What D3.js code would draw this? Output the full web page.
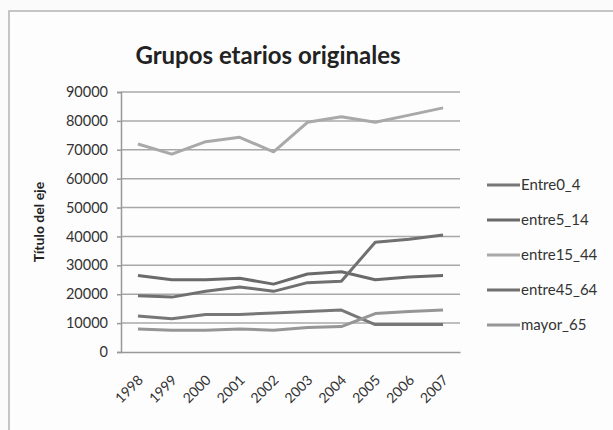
<!DOCTYPE html>
<html>
<head>
<meta charset="utf-8">
<script src="https://cdn.jsdelivr.net/npm/d3@7"></script>
<style>
  body { margin: 0; background: #fbfbfb; }
  svg { display: block; font-family: Lato, "Open Sans", sans-serif; }
</style>
</head>
<body>
<script>
// Figure
const W = 613, H = 430;
const margin = { top: 92, left: 121, right: 153, bottom: 78 };

// Data
const YEARS = ["1998","1999","2000","2001","2002","2003","2004","2005","2006","2007"];
const SERIES = ["Entre0_4", "entre5_14", "entre15_44", "entre45_64", "mayor_65"];
const entre0_4   = [12500, 11500, 13000, 13000, 13500, 14000, 14500,  9500,  9500,  9500];
const entre5_14  = [26500, 25000, 25000, 25500, 23500, 27000, 27800, 25000, 26000, 26500];
const entre15_44 = [72000, 68500, 72800, 74300, 69300, 79500, 81400, 79500, 82000, 84500];
const entre45_64 = [19500, 19000, 21000, 22500, 21000, 24000, 24500, 38000, 39000, 40500];
const mayor_65   = [ 8000,  7500,  7500,  8000,  7500,  8500,  8800, 13300, 14000, 14500];
const VALUES = [entre0_4, entre5_14, entre15_44, entre45_64, mayor_65];
const Y_TICKS = d3.range(0, 90001, 10000);

const COLORS = ["#777777", "#6a6a6a", "#a9a9a9", "#707070", "#969696"];

const svg = d3.select("body").append("svg")
    .attr("width", W)
    .attr("height", H);

// chart frame (runs off the right and bottom edges)
svg.append("rect")
  .attr("x", 9).attr("y", 11)
  .attr("width", W + 20).attr("height", H + 20)
  .attr("fill", "#fdfdfd")
  .attr("stroke", "#b4b4b4")
  .attr("stroke-width", 1.5);

// Scales
const x = d3.scaleBand()
  .domain(YEARS)
  .range([margin.left, W - margin.right])
  .padding(0);
const y = d3.scaleLinear()
  .domain([0, 90000])
  .range([H - margin.bottom, margin.top]);

// Grid
svg.append("g")
  .selectAll("line")
  .data(Y_TICKS.slice(1))
  .join("line")
    .attr("x1", margin.left)
    .attr("x2", W - margin.right)
    .attr("y1", d => y(d))
    .attr("y2", d => y(d))
    .attr("stroke", "#a8a8a8")
    .attr("stroke-width", 1.5);

// Y axis
const yAxis = g => {
  g.attr("transform", `translate(${margin.left},0)`)
    .call(d3.axisLeft(y).tickValues(Y_TICKS).tickSize(4).tickPadding(9).tickFormat(d3.format("d")))
    .call(g => g.select(".domain").attr("stroke", "#999").attr("stroke-width", 1.5))
    .call(g => g.selectAll("line").attr("stroke", "#999").attr("stroke-width", 1.5))
    .call(g => g.selectAll("text")
      .attr("fill", "#333")
      .style("font-size", "14.5px")
      .style("font-family", "Lato, sans-serif"));
};
svg.append("g").call(yAxis);

// X axis
const xAxis = g => {
  g.attr("transform", `translate(0,${H - margin.bottom})`)
    .call(d3.axisBottom(x).tickSize(0).tickPadding(0))
    .call(g => g.select(".domain").attr("stroke", "#999").attr("stroke-width", 1.5))
    .call(g => g.selectAll("text")
      .attr("fill", "#333")
      .attr("text-anchor", "end")
      .attr("dy", null)
      .attr("y", 0)
      .attr("transform", "translate(6,29) rotate(-45)")
      .style("font-size", "14px")
      .style("font-family", "Lato, sans-serif"));
};
svg.append("g").call(xAxis);

// Lines
const line = d3.line()
  .x((d, i) => x(YEARS[i]) + x.bandwidth() / 2)
  .y(d => y(d));

svg.append("g")
  .selectAll("path")
  .data(VALUES)
  .join("path")
    .attr("d", line)
    .attr("fill", "none")
    .attr("stroke", (d, i) => COLORS[i])
    .attr("stroke-width", 3)
    .attr("stroke-linejoin", "round");

// Title
svg.append("text")
  .attr("x", 268)
  .attr("y", 64)
  .attr("text-anchor", "middle")
  .attr("fill", "#222")
  .style("font-size", "24px")
  .style("font-weight", "bold")
  .text("Grupos etarios originales");

// Y axis title
svg.append("text")
  .attr("transform", `translate(44,${(margin.top + H - margin.bottom) / 2}) rotate(-90)`)
  .attr("text-anchor", "middle")
  .attr("fill", "#222")
  .style("font-size", "14px")
  .style("font-weight", "bold")
  .text("Título del eje");

// Legend
const legend = svg.append("g")
  .attr("transform", "translate(487,185)")
  .selectAll("g")
  .data(SERIES)
  .join("g")
    .attr("transform", (d, i) => `translate(0,${i * 35})`);
legend.append("line")
  .attr("x1", 0).attr("x2", 33)
  .attr("stroke", (d, i) => COLORS[i])
  .attr("stroke-width", 3);
legend.append("text")
  .attr("x", 34)
  .attr("dy", "0.35em")
  .attr("fill", "#333")
  .style("font-size", "15px")
  .text(d => d);
</script>
</body>
</html>
